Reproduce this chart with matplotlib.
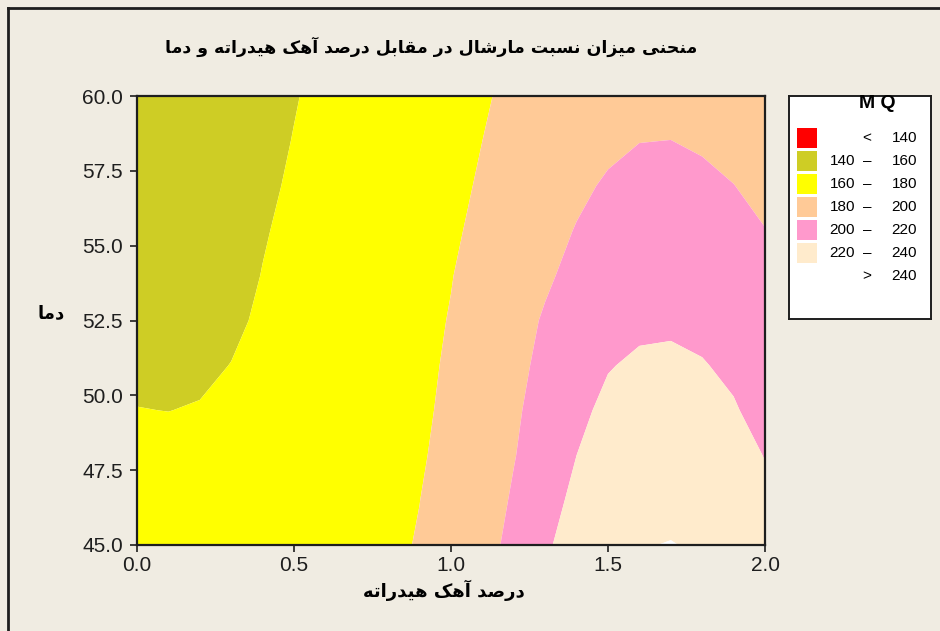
import numpy as np
import matplotlib
matplotlib.use("Agg")
import matplotlib.pyplot as plt
from matplotlib.patches import Rectangle
from matplotlib.lines import Line2D

# Persian texts (shaped below, matplotlib has no RTL/joining support)
TITLE = "منحنی میزان نسبت مارشال در مقابل درصد آهک هیدراته و دما"
X_LABEL = "درصد آهک هیدراته"
Y_LABEL = "دما"
LEGEND_TITLE = "M Q"

# grid: hydrated lime % (x) and temperature (y)
LIME = [0.0, 0.1, 0.2, 0.3, 0.4, 0.5, 0.6, 0.7, 0.8, 0.9, 1.0,
        1.1, 1.2, 1.3, 1.4, 1.5, 1.6, 1.7, 1.8, 1.9, 2.0]
TEMP = [45.0, 46.5, 48.0, 49.5, 51.0, 52.5, 54.0, 55.5, 57.0, 58.5, 60.0]

# Marshall quotient estimates, one row per temperature
MQ_45_0 = [168, 168.5, 169.2, 170, 171, 172.3, 173.8, 175.6, 177.5, 180.8, 186.5,
           194, 204.5, 217.5, 228, 235, 239.3, 240.5, 238.4, 233.9, 226.9]
MQ_46_5 = [165.4, 165.9, 166.6, 167.5, 168.6, 170, 171.6, 173.5, 176.2, 179.9, 185.2,
           191, 202, 213.4, 224, 231.2, 235.2, 235.9, 234.1, 229.9, 223.5]
MQ_48_0 = [162.8, 163.2, 163.9, 164.9, 166.2, 167.8, 169.7, 172, 175, 178.8, 183.5,
           190, 199.2, 209.9, 220, 226.9, 230.7, 231.5, 229.6, 225.7, 219.5]
MQ_49_5 = [160.2, 159.9, 160.6, 161.8, 163.5, 165.5, 167.8, 170.6, 174, 177.8, 182.6,
           188, 197, 208.1, 216.9, 223, 226.3, 227, 225.1, 221.2, 215]
MQ_51_0 = [157.8, 157.6, 158, 160.2, 162.5, 164.9, 167.5, 170.3, 173.6, 177.2, 181.6,
           186.3, 194.8, 204.8, 213.8, 219.3, 222, 222.4, 220.8, 217.3, 211.8]
MQ_52_5 = [155.6, 155.4, 156, 158, 161.6, 164.3, 167.2, 170.1, 173.3, 176.7, 180.6,
           185.5, 193, 201.8, 209.2, 214.5, 217.4, 218, 216.4, 213.1, 208]
MQ_54_0 = [153.6, 153.4, 154, 156.4, 160.3, 163.6, 166.6, 169.6, 172.7, 176, 179.6,
           184.5, 190.5, 197.5, 205, 210.1, 212.9, 213.4, 212, 209, 204.1]
MQ_55_5 = [151.8, 151.6, 152.3, 155, 159.2, 162.5, 165.6, 168.6, 171.8, 175, 178.2,
           182.9, 188.8, 195.2, 200.7, 205.4, 208.5, 209, 207.6, 204.8, 200.3]
MQ_57_0 = [150.1, 150, 150.8, 153.5, 157.8, 161.5, 164.8, 167.9, 171, 174.2, 177.3,
           181.2, 186, 191.5, 197.3, 201.6, 204, 204.4, 203, 200.2, 196.4]
MQ_58_5 = [148.5, 148.4, 149.3, 152, 156.4, 160.4, 164, 167.2, 170.3, 173.3, 176.3,
           180, 184.3, 189, 193.5, 197.2, 199.8, 200.1, 198.4, 195.8, 192.5]
MQ_60_0 = [147, 146.9, 147.8, 150.5, 155, 159.3, 163.1, 166.4, 169.5, 172.5, 175.5,
           178.7, 182.7, 186.6, 190.2, 193, 195, 195.5, 194.3, 191.9, 188.6]

LEVELS = [120, 140, 160, 180, 200, 220, 240, 260]
COLORS = ["#FF0000", "#CECD25", "#FFFF00", "#FFCA97", "#FF99CC", "#FFEBCC", "#FFFFFF"]

X_TICKS = [0.0, 0.5, 1.0, 1.5, 2.0]
Y_TICKS = [45.0, 47.5, 50.0, 52.5, 55.0, 57.5, 60.0]

BG = "#F0ECE2"

# presentation forms: isolated, final, initial, medial
FORMS = {
    "ا": ("\uFE8D", "\uFE8E", None, None),
    "آ": ("\uFE81", "\uFE82", None, None),
    "ب": ("\uFE8F", "\uFE90", "\uFE91", "\uFE92"),
    "ت": ("\uFE95", "\uFE96", "\uFE97", "\uFE98"),
    "ح": ("\uFEA1", "\uFEA2", "\uFEA3", "\uFEA4"),
    "د": ("\uFEA9", "\uFEAA", None, None),
    "ر": ("\uFEAD", "\uFEAE", None, None),
    "ز": ("\uFEAF", "\uFEB0", None, None),
    "س": ("\uFEB1", "\uFEB2", "\uFEB3", "\uFEB4"),
    "ش": ("\uFEB5", "\uFEB6", "\uFEB7", "\uFEB8"),
    "ص": ("\uFEB9", "\uFEBA", "\uFEBB", "\uFEBC"),
    "ق": ("\uFED5", "\uFED6", "\uFED7", "\uFED8"),
    "ل": ("\uFEDD", "\uFEDE", "\uFEDF", "\uFEE0"),
    "م": ("\uFEE1", "\uFEE2", "\uFEE3", "\uFEE4"),
    "ن": ("\uFEE5", "\uFEE6", "\uFEE7", "\uFEE8"),
    "ه": ("\uFEE9", "\uFEEA", "\uFEEB", "\uFEEC"),
    "و": ("\uFEED", "\uFEEE", None, None),
    "ی": ("\uFBFC", "\uFBFD", "\uFBFE", "\uFBFF"),
    "ک": ("\uFB8E", "\uFB8F", "\uFB90", "\uFB91"),
}


def shape_fa(text):
    out = []
    for i, ch in enumerate(text):
        if ch not in FORMS:
            out.append(ch)
            continue
        prev = text[i - 1] if i > 0 else ""
        nxt = text[i + 1] if i + 1 < len(text) else ""
        join_prev = prev in FORMS and FORMS[prev][2] is not None
        join_next = FORMS[ch][2] is not None and nxt in FORMS
        iso, fin, ini, med = FORMS[ch]
        if join_prev and join_next:
            out.append(med)
        elif join_prev:
            out.append(fin)
        elif join_next:
            out.append(ini)
        else:
            out.append(iso)
    return "".join(out)[::-1]


def main():
    plt.rcParams["font.family"] = ["Liberation Sans", "DejaVu Sans"]
    fa = ["DejaVu Sans"]

    fig = plt.figure(figsize=(9.4, 6.31), dpi=100, facecolor=BG)

    # outer frame (left and top only)
    fig.add_artist(Line2D([8 / 940, 8 / 940], [0, 1 - 8 / 631],
                          transform=fig.transFigure, color="#1E1E1E", lw=2))
    fig.add_artist(Line2D([8 / 940, 1], [1 - 8 / 631, 1 - 8 / 631],
                          transform=fig.transFigure, color="#1E1E1E", lw=2))

    ax = fig.add_axes([137 / 940, 86 / 631, 628 / 940, 449 / 631])
    Z = np.array([MQ_45_0, MQ_46_5, MQ_48_0, MQ_49_5, MQ_51_0, MQ_52_5,
                  MQ_54_0, MQ_55_5, MQ_57_0, MQ_58_5, MQ_60_0])
    ax.contourf(LIME, TEMP, Z, levels=LEVELS, colors=COLORS, antialiased=True)

    ax.set_xlim(0, 2)
    ax.set_ylim(45, 60)
    ax.set_xticks(X_TICKS)
    ax.set_xticklabels([f"{v:.1f}" for v in X_TICKS])
    ax.set_yticks(Y_TICKS)
    ax.set_yticklabels([f"{v:.1f}" for v in Y_TICKS])
    ax.tick_params(direction="out", length=5, width=1.2, labelsize=15, pad=3,
                   colors="#1E1E1E")
    ax.tick_params(axis="y", pad=5)
    for s in ax.spines.values():
        s.set_linewidth(1.6)
        s.set_color("#1E1E1E")

    ax.set_xlabel(shape_fa(X_LABEL), family=fa, fontsize=13, fontweight="bold")
    ax.xaxis.set_label_coords(0.489, -0.1)
    ax.xaxis.label.set_va("center")
    ax.set_ylabel(shape_fa(Y_LABEL), family=fa, fontsize=13, fontweight="bold",
                  rotation=0, ha="center", va="center")
    ax.yaxis.set_label_coords(-0.136, 0.517)

    fig.text(431 / 940, 1 - 47 / 631, shape_fa(TITLE), family=fa, fontsize=12.5,
             fontweight="bold", ha="center", va="center")

    # legend box, laid out in pixel units of the box
    lax = fig.add_axes([789 / 940, 1 - 319 / 631, 142 / 940, 223 / 631])
    lax.set_xlim(0, 142)
    lax.set_ylim(223, 0)
    lax.set_xticks([])
    lax.set_yticks([])
    lax.set_facecolor("white")
    for s in lax.spines.values():
        s.set_linewidth(1.4)
        s.set_color("#1E1E1E")
    lax.text(88, 8, LEGEND_TITLE, fontsize=14, fontweight="bold",
             ha="center", va="center")
    for i in range(len(COLORS)):
        yc = 42 + 23 * i
        lo, hi = LEVELS[i], LEVELS[i + 1]
        if i < len(COLORS) - 1:
            lax.add_patch(Rectangle((8, yc - 10), 20, 20, facecolor=COLORS[i],
                                    edgecolor="none"))
        if i == 0:
            lax.text(78, yc, "<", fontsize=11, ha="center", va="center")
            lax.text(128, yc, str(hi), fontsize=11, ha="right", va="center")
        elif i == len(COLORS) - 1:
            lax.text(78, yc, ">", fontsize=11, ha="center", va="center")
            lax.text(128, yc, str(lo), fontsize=11, ha="right", va="center")
        else:
            lax.text(66, yc, str(lo), fontsize=11, ha="right", va="center")
            lax.text(78, yc, "\u2013", fontsize=11, ha="center", va="center")
            lax.text(128, yc, str(hi), fontsize=11, ha="right", va="center")

    fig.savefig("out.png", dpi=100, facecolor=BG)
    plt.close(fig)


if __name__ == "__main__":
    main()
